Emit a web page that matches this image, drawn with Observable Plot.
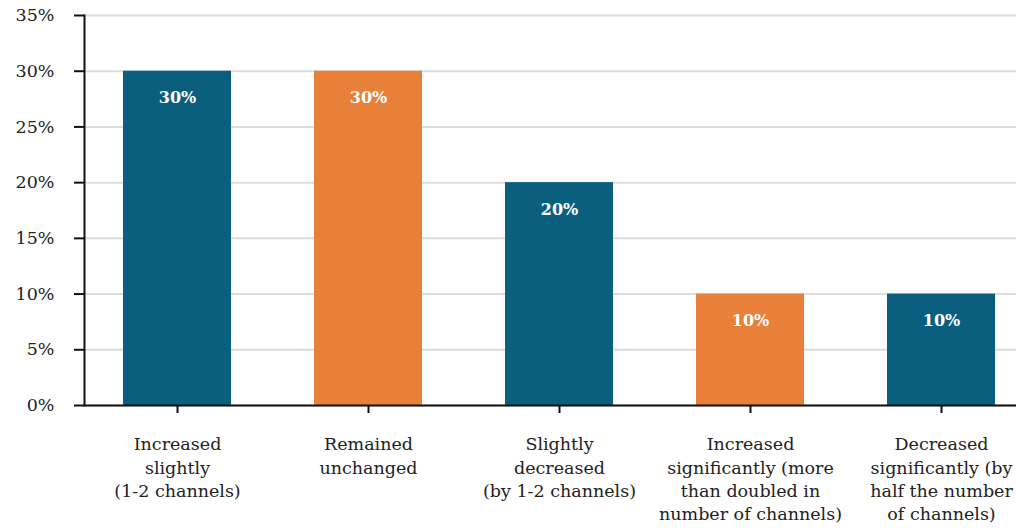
<!DOCTYPE html>
<html>
<head>
<meta charset="utf-8">
<script src="https://cdn.jsdelivr.net/npm/d3@7"></script>
<script src="https://cdn.jsdelivr.net/npm/@observablehq/plot@0.6"></script>
<style>
  html, body { margin: 0; padding: 0; background: #fff; }
  #chart svg { display: block; }
</style>
</head>
<body>
<div id="chart"></div>
<script>
const categories = [
  "Increased\nslightly\n(1-2 channels)",
  "Remained\nunchanged",
  "Slightly\ndecreased\n(by 1-2 channels)",
  "Increased\nsignificantly (more\nthan doubled in\nnumber of channels)",
  "Decreased\nsignificantly (by\nhalf the number\nof channels)"
];
const values = [30, 30, 20, 10, 10];
const barColors = ["#0a5f7f", "#e8803a", "#0a5f7f", "#e8803a", "#0a5f7f"];
const yTicks = [0, 5, 10, 15, 20, 25, 30, 35];

const data = categories.map((c, i) => ({cat: c, value: values[i], color: barColors[i]}));

const chart = Plot.plot({
  width: 1016,
  height: 528,
  marginLeft: 84,
  marginRight: 0,
  marginTop: 15,
  marginBottom: 123,
  style: {fontFamily: "'DejaVu Serif', serif", fontSize: "17px", color: "#222", background: "#fff"},
  x: {domain: categories, range: [84, 1034], paddingInner: 0.4346, paddingOuter: 0.204, align: 0.5},
  y: {domain: [0, 35], range: [405, 15]},
  color: {type: "identity"},
  marks: [
    Plot.gridY(yTicks, {stroke: "#dcdcdc", strokeOpacity: 1, strokeWidth: 2}),
    Plot.barY(data, {x: "cat", y: "value", fill: "color"}),
    Plot.text(data, {x: "cat", y: "value", text: d => d.value + "%", dy: 27, fill: "white", fontWeight: "bold", fontSize: 16}),
    Plot.ruleY([0], {stroke: "#111", strokeWidth: 2}),
    Plot.frame({anchor: "left", stroke: "#111", strokeWidth: 2}),
    Plot.axisY({ticks: yTicks, tickFormat: d => d + "%", tickSize: 10, tickPadding: 20, strokeWidth: 2, stroke: "#111", fill: "#222", fontSize: 17.5, label: null}),
    Plot.axisX({tickSize: 8, tickPadding: 20, strokeWidth: 2, stroke: "#111", fill: "#222", fontSize: 17.5, lineHeight: 1.34, label: null})
  ]
});
document.getElementById("chart").appendChild(chart);
</script>
</body>
</html>
